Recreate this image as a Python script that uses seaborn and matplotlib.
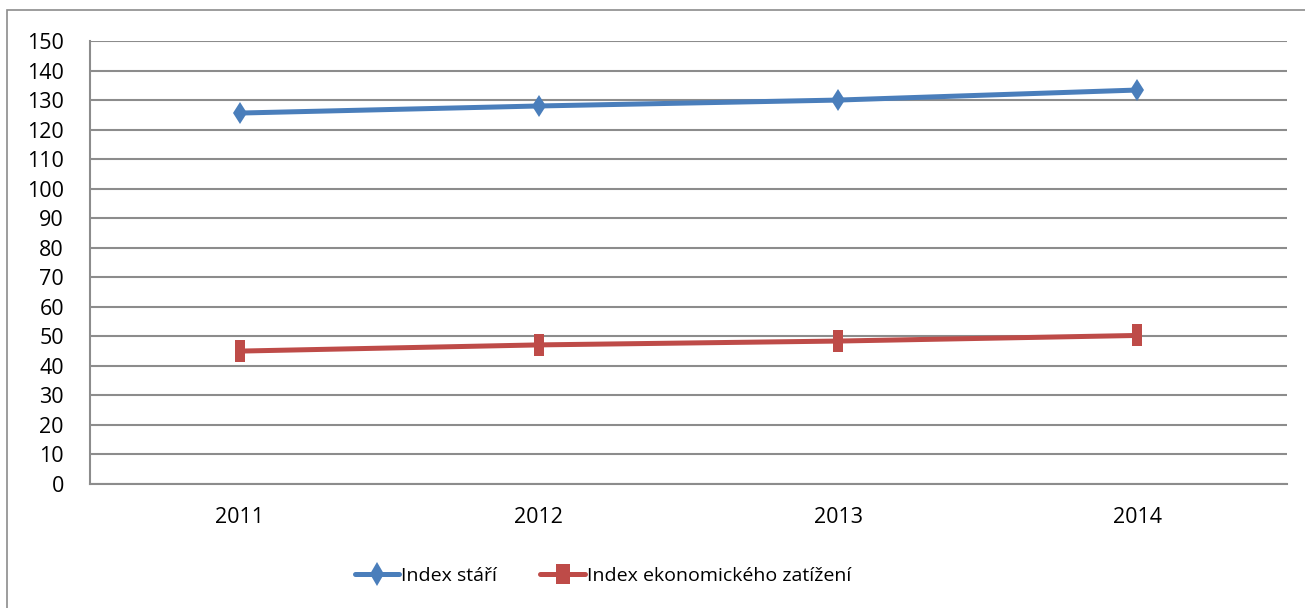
import pandas as pd
import seaborn as sns
import matplotlib.pyplot as plt
from matplotlib.patches import Rectangle

years = ['2011', '2012', '2013', '2014']
index_stari = [125.6, 128.0, 130.0, 133.4]
index_zatizeni = [45.0, 47.1, 48.4, 50.3]
series_names = ['Index stáří', 'Index ekonomického zatížení']

df = pd.DataFrame({
    'pos': list(range(len(years))) * 2,
    'value': index_stari + index_zatizeni,
    'series': [series_names[0]] * 4 + [series_names[1]] * 4,
})

sns.set_style('white')
plt.rcParams['font.family'] = ['Open Sans', 'DejaVu Sans']
plt.rcParams['text.color'] = 'black'

fig = plt.figure(figsize=(13.05, 6.08), dpi=100)
ax = fig.add_axes([90 / 1305, 1 - 484 / 608, 1197 / 1305, 443 / 608])

# outer chart frame
fig.patches.append(Rectangle((7 / 1305, -0.05), 1.1, 1 - 10 / 608 + 0.05,
                             transform=fig.transFigure, fill=False,
                             edgecolor='#8c8c8c', linewidth=1.2, zorder=0))

# tall narrow marker shapes like the source
tall_square = [(-0.25, -0.5), (0.25, -0.5), (0.25, 0.5), (-0.25, 0.5), (-0.25, -0.5)]
legend_square = [(-0.37, -0.5), (0.37, -0.5), (0.37, 0.5), (-0.37, 0.5), (-0.37, -0.5)]
pal = {series_names[0]: '#4a7ebb', series_names[1]: '#be4b48'}
mk = {series_names[0]: 'd', series_names[1]: tall_square}
msize = {series_names[0]: 11.5, series_names[1]: 15.5}

for name in series_names:
    sns.lineplot(data=df[df['series'] == name], x='pos', y='value',
                 color=pal[name], marker=mk[name], markersize=msize[name],
                 markeredgewidth=0, linewidth=3.6, ax=ax, legend=False)

ax.set_xlim(-0.5, 3.5)
ax.set_ylim(0, 150)
ax.set_yticks(range(0, 151, 10))
ax.set_xticks(range(len(years)))
ax.set_xticklabels(years)
ax.set_xticks([-0.5, 0.5, 1.5, 2.5, 3.5], minor=True)
ax.tick_params(axis='x', which='major', length=0, pad=16.5, labelsize=15.5, labelcolor='black')
ax.tick_params(axis='x', which='minor', length=5.8, width=1.5, color='#8c8c8c', direction='out')
ax.tick_params(axis='y', length=5.8, width=1.5, color='#8c8c8c', direction='out', pad=13,
               labelsize=15.5, labelcolor='black')
ax.grid(axis='y', color='#8c8c8c', linewidth=1.5)
ax.set_axisbelow(True)
for s in ['top', 'right']:
    ax.spines[s].set_visible(False)
for s in ['left', 'bottom']:
    ax.spines[s].set_color('#8c8c8c')
    ax.spines[s].set_linewidth(1.5)
ax.set_xlabel('')
ax.set_ylabel('')

leg_mk = {series_names[0]: 'd', series_names[1]: legend_square}
leg_ms = {series_names[0]: 12.5, series_names[1]: 14.5}
handles = [plt.Line2D([], [], color=pal[n], marker=leg_mk[n], markersize=leg_ms[n],
                      markeredgewidth=0, linewidth=3.6, label=n)
           for n in series_names]
fig.legend(handles=handles, loc='center', bbox_to_anchor=(603 / 1305, 1 - 576 / 608),
           ncol=2, frameon=False, fontsize=14, handlelength=2.3,
           handletextpad=0.1, columnspacing=2.2)

fig.savefig('out.png', dpi=100)
